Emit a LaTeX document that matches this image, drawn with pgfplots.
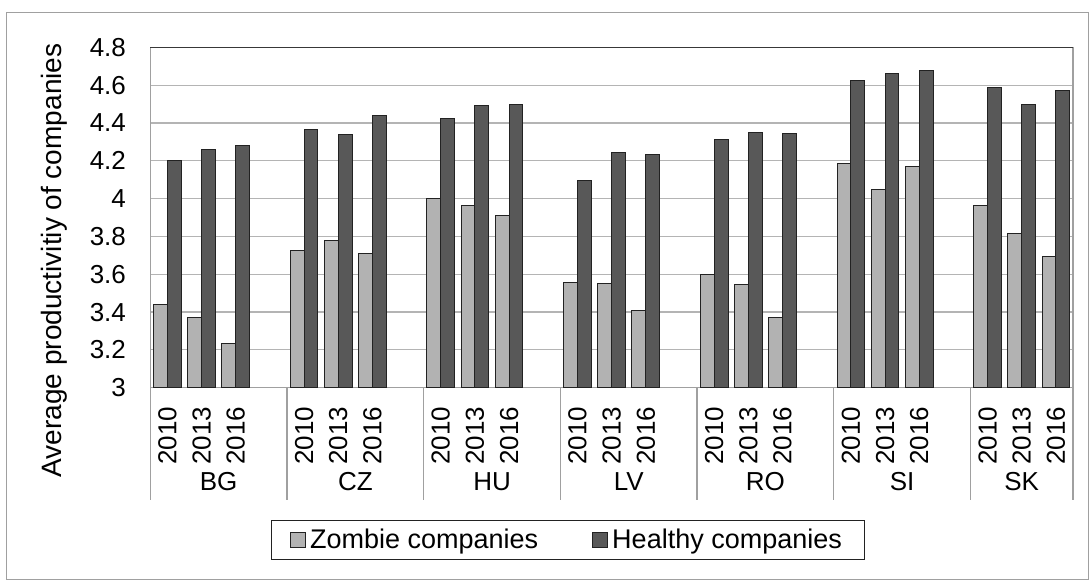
\documentclass[border=0pt]{standalone}
\usepackage{fontspec}
\setmainfont{Liberation Sans}
\usepackage{pgfplots}
\usepackage{pgfplotstable}
\pgfplotsset{compat=1.18}

\definecolor{zombie}{HTML}{B2B2B2}
\definecolor{healthy}{HTML}{585858}
\definecolor{barline}{HTML}{222222}
\definecolor{gridgray}{HTML}{B4B4B4}
\definecolor{framegray}{HTML}{A0A0A0}

% slot positions: 4 slots per country (3 years + spacer)
\pgfplotstableread{
x  zombie healthy
0  3.441  4.200
1  3.370  4.262
2  3.236  4.283
4  3.728  4.368
5  3.776  4.340
6  3.709  4.437
8  4.000  4.422
9  3.964  4.493
10 3.908  4.495
12 3.555  4.095
13 3.552  4.246
14 3.406  4.231
16 3.596  4.315
17 3.547  4.349
18 3.370  4.342
20 4.187  4.626
21 4.047  4.663
22 4.171  4.675
24 3.962  4.590
25 3.818  4.495
26 3.696  4.574
}\datatable

\newcommand{\chartfont}{\fontsize{13pt}{15pt}\selectfont}

\begin{document}
\begin{tikzpicture}
\useasboundingbox (0,0) rectangle (545.5pt,290pt);
\draw[framegray, line width=0.6pt] (3.4pt,0.4pt) rectangle (544.2pt,283.6pt);

\begin{axis}[
  at={(75.15pt,96.15pt)}, anchor=south west,
  scale only axis, width=461.35pt, height=170.2pt,
  xmin=-0.5, xmax=26.5, ymin=3, ymax=4.8,
  ytick={3,3.2,...,4.81},
  yticklabel style={font=\chartfont, inner xsep=0pt, xshift=-12pt,
    /pgf/number format/assume math mode=true, /pgf/number format/fixed},
  ymajorgrids, grid style={gridgray, line width=0.6pt},
  ytick style={draw=none},
  xtick={0,1,2,4,5,6,8,9,10,12,13,14,16,17,18,20,21,22,24,25,26},
  xticklabels={2010,2013,2016,2010,2013,2016,2010,2013,2016,2010,2013,2016,
               2010,2013,2016,2010,2013,2016,2010,2013,2016},
  xticklabel style={font=\chartfont, rotate=90, anchor=east, inner xsep=5pt},
  xtick pos=bottom,
  major x tick style={draw=none},
  extra x ticks={-0.5,3.5,7.5,11.5,15.5,19.5,23.5,26.5},
  extra x tick labels={},
  extra x tick style={major tick length=56pt, tick align=outside,
    major x tick style={draw=framegray, line width=0.6pt}, xmajorgrids=false},
  axis line style={framegray, line width=0.6pt},
  ylabel={Average productivitiy of companies},
  ylabel style={font=\fontsize{14pt}{16pt}\selectfont,
    at={(axis description cs:-0.1044,0.374)}, anchor=center},
  ybar=0pt, bar width=0.405,
  clip=false,
  legend columns=2,
  legend style={at={(axis description cs:0.4527,-0.4474)}, anchor=center,
    draw=barline, line width=0.6pt, font=\fontsize{13.5pt}{15pt}\selectfont,
    inner xsep=9.5pt, inner ysep=2pt,
    /tikz/every even column/.append style={column sep=25pt}},
  legend image code/.code={%
    \draw[#1, line width=0.5pt] (0pt,-3.75pt) rectangle (7.5pt,3.75pt);},
]
\addplot[fill=zombie, draw=barline, line width=0.5pt, bar shift=-0.2025]
  table[x=x, y=zombie] {\datatable};
\addplot[fill=healthy, draw=barline, line width=0.5pt, bar shift=0.2025]
  table[x=x, y=healthy] {\datatable};
\legend{Zombie companies, Healthy companies}

\draw[barline!90, line width=0.6pt] (rel axis cs:0,1) -- (rel axis cs:1,1);

% country names under each group of years
\node[font=\chartfont, anchor=center, yshift=-47pt] at (axis cs:1.5,3) {BG};
\node[font=\chartfont, anchor=center, yshift=-47pt] at (axis cs:5.5,3) {CZ};
\node[font=\chartfont, anchor=center, yshift=-47pt] at (axis cs:9.5,3) {HU};
\node[font=\chartfont, anchor=center, yshift=-47pt] at (axis cs:13.5,3) {LV};
\node[font=\chartfont, anchor=center, yshift=-47pt] at (axis cs:17.5,3) {RO};
\node[font=\chartfont, anchor=center, yshift=-47pt] at (axis cs:21.5,3) {SI};
\node[font=\chartfont, anchor=center, yshift=-47pt] at (axis cs:25,3) {SK};
\end{axis}
\end{tikzpicture}
\end{document}
